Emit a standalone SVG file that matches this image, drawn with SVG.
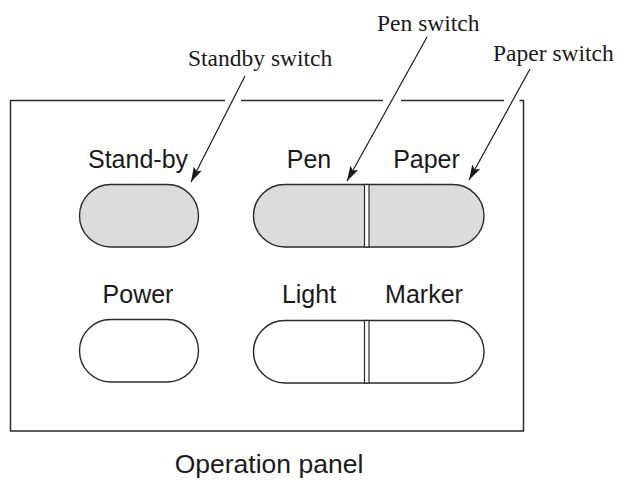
<svg xmlns="http://www.w3.org/2000/svg" width="619" height="489" viewBox="0 0 619 489">
<defs>
<style>
.sans{font-family:"Liberation Sans",Arial,sans-serif;font-size:25px;fill:#1a1a1a;text-anchor:middle}
.title{font-size:26.5px}
.serif{font-family:"Liberation Serif","Times New Roman",serif;font-size:23.5px;fill:#1a1a1a}
.edge{fill:none;stroke:#2a2a2a;stroke-width:1.5}
.btn-on{fill:#dcdcdc;stroke:#2a2a2a;stroke-width:1.4}
.btn-off{fill:#ffffff;stroke:#2a2a2a;stroke-width:1.4}
.div{fill:#ffffff;stroke:#2a2a2a;stroke-width:1.2}
.lead{fill:none;stroke:#1a1a1a;stroke-width:1.2;marker-end:url(#arr)}
</style>
<marker id="arr" markerUnits="userSpaceOnUse" markerWidth="16" markerHeight="10" refX="15" refY="5" orient="auto">
<path d="M0,0.5 L15,5 L0,9.5 L3,5 z" fill="#1a1a1a"/>
</marker>
</defs>
<rect width="619" height="489" fill="#ffffff"/>
<g id="panel">
<path class="edge" d="M225,100.5 H10.5 V431 H523.5 V100.5 H519.5 M241,100.5 H383 M401,100.5 H504"/>
<text class="sans title" x="269" y="473">Operation panel</text>
</g>
<g id="standby">
<rect class="btn-on" x="79.5" y="184.5" width="119" height="62.5" rx="31.25"/>
<text class="sans" x="138" y="168">Stand-by</text>
</g>
<g id="power">
<rect class="btn-off" x="79.5" y="319.5" width="119" height="62.5" rx="31.25"/>
<text class="sans" x="138" y="303">Power</text>
</g>
<g id="pen-paper">
<rect class="btn-on" x="253.5" y="184.5" width="230.5" height="62.5" rx="31.25"/>
<rect class="div" x="364.5" y="184.5" width="4.5" height="62.5"/>
<text class="sans" x="309" y="168">Pen</text>
<text class="sans" x="426.5" y="168">Paper</text>
</g>
<g id="light-marker">
<rect class="btn-off" x="253.5" y="320.5" width="230.5" height="62.5" rx="31.25"/>
<rect class="div" x="364.5" y="320.5" width="4.5" height="62.5"/>
<text class="sans" x="309" y="303">Light</text>
<text class="sans" x="424" y="303">Marker</text>
</g>
<g id="callouts">
<text class="serif" x="188" y="66">Standby switch</text>
<text class="serif" x="377" y="31">Pen switch</text>
<text class="serif" x="493" y="61">Paper switch</text>
</g>
<g id="connectors">
<line class="lead" x1="245" y1="76" x2="191" y2="182"/>
<line class="lead" x1="427" y1="37" x2="347" y2="181"/>
<line class="lead" x1="530" y1="69" x2="469" y2="180"/>
</g>
</svg>
